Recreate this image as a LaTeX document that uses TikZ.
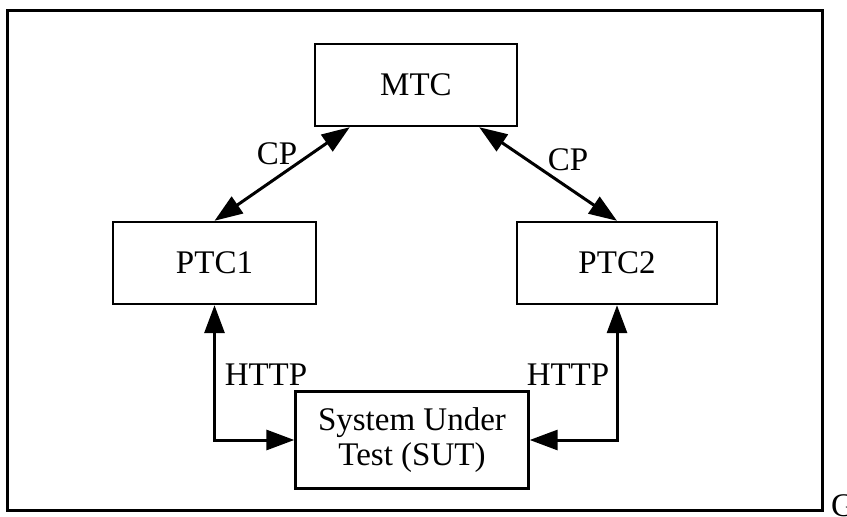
\documentclass[tikz,border=0pt]{standalone}
\usepackage{fontspec}
\setmainfont{Liberation Serif}
\usetikzlibrary{arrows.meta,calc}
\begin{document}
\begin{tikzpicture}[x=1pt,y=-1pt,
  box/.style={draw,line width=2.4pt,minimum width=#1,inner sep=0pt,align=center,font=\fontsize{33}{35}\selectfont},
  conn/.style={line width=3pt,{Triangle[length=28pt,width=20pt]}-{Triangle[length=28pt,width=20pt]}},
  lbl/.style={font=\fontsize{33}{35}\selectfont,inner sep=0pt}]
\useasboundingbox (0,0) rectangle (847,517);
\draw[line width=3pt] (7,10) rectangle (822,510);
\node[box=202pt,minimum height=82pt] (MTC) at (416,85) {MTC};
\node[box=203pt,minimum height=82pt] (PTC1) at (214.5,263) {PTC1};
\node[box=200pt,minimum height=82pt] (PTC2) at (617,263) {PTC2};
\node[box=233pt,minimum height=97pt] (SUT) at (412,440) {System Under\\Test (SUT)};
\coordinate (m1) at ($(MTC.south west)+(36,0)$);
\coordinate (m2) at ($(MTC.south east)+(-39,0)$);
\draw[conn] (m1) -- (PTC1.north);
\draw[conn] (m2) -- (PTC2.north);
\draw[conn] (PTC1.south) |- (SUT.west);
\draw[conn] (PTC2.south) |- (SUT.east);
\node[lbl] (cp1) at (277,154) {CP};
\node[lbl] (cp2) at (568,160) {CP};
\node[lbl] (h1) at (266,375) {HTTP};
\node[lbl] (h2) at (568,375) {HTTP};
\node[lbl,anchor=north west] (g) at (831,494) {G};
\end{tikzpicture}
\end{document}
